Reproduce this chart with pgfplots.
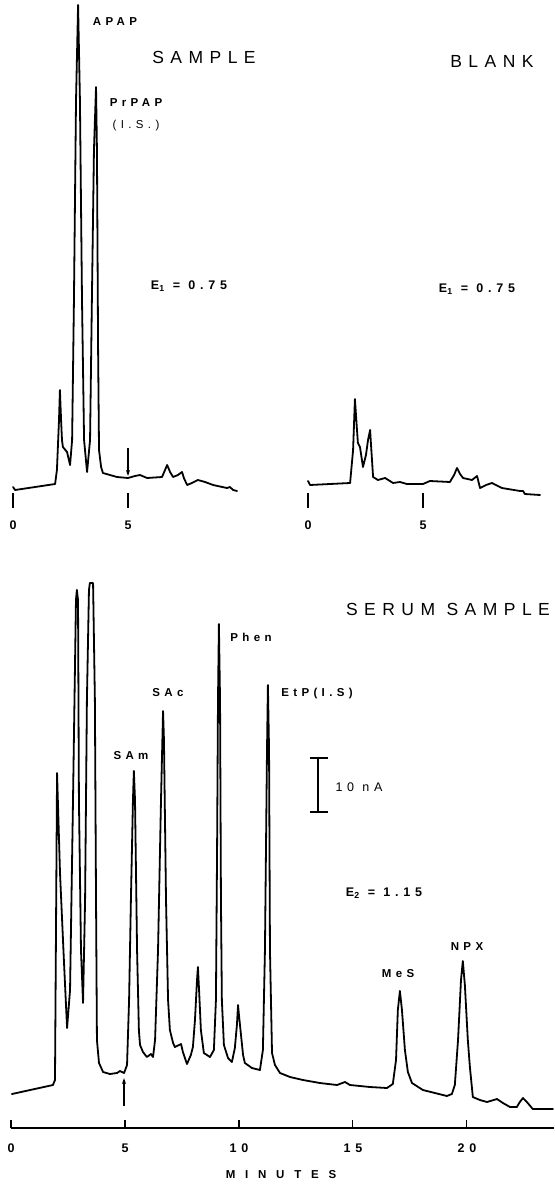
\documentclass[border=0pt]{standalone}
\usepackage{fontspec}
\setmainfont{Liberation Sans}
\newfontfamily\bigf{Liberation Sans}[LetterSpace=37]
\newfontfamily\smf{Liberation Sans}[LetterSpace=38]
\newfontfamily\minf{Liberation Sans}[LetterSpace=85]
\usepackage{pgfplots}
\pgfplotsset{compat=1.18}
\usetikzlibrary{arrows.meta}
\pgfplotsset{chrom/.style={scale only axis, anchor=south west, axis x line*=bottom, hide y axis,
  enlargelimits=false, clip=false, /pgf/number format/assume math mode=true,
  tick align=inside, xtick style={draw=black, line width=1.1pt},
  x axis line style={line width=1.2pt},
  xticklabel style={anchor=center, font=\smf\bfseries\fontsize{12.5}{12.5}\selectfont}},
  curve/.style={black, line width=1.8pt, line join=round, line cap=round}}
\begin{document}
\begin{tikzpicture}
\path[use as bounding box] (0,0) rectangle (554pt,-1185pt);
% ---------- top left: SAMPLE
\begin{axis}[chrom, at={(13pt,-508pt)}, width=230pt, height=508pt,
  xmin=0, xmax=10, ymin=0, ymax=508, xtick={0,5}, major tick length=15pt,
  x axis line style={draw=none}, xticklabel style={yshift=-17pt}]
\addplot[curve] coordinates {
(0,21) (0.09,18) (1.83,24) (1.91,38) (2.0,88) (2.04,118) (2.09,88) (2.13,68) (2.17,61)
(2.35,56) (2.48,43) (2.57,68) (2.65,208) (2.74,408) (2.83,503) (2.91,408) (3.0,208)
(3.09,68) (3.22,36) (3.35,68) (3.43,208) (3.52,358) (3.61,421) (3.65,358) (3.70,158)
(3.74,58) (3.83,41) (3.91,35) (4.52,31) (5.0,30) (5.30,32) (5.52,33) (5.83,30) (6.48,31)
(6.61,38) (6.70,43) (6.83,36) (6.96,31) (7.17,33) (7.35,36) (7.43,30) (7.57,23) (7.78,25)
(8.04,28) (8.35,26) (8.70,23) (9.30,20) (9.43,21) (9.57,18) (9.74,17)};
\end{axis}
% ---------- top right: BLANK
\begin{axis}[chrom, at={(308pt,-508pt)}, width=241.5pt, height=508pt,
  xmin=0, xmax=10.5, ymin=0, ymax=508, xtick={0,5}, major tick length=15pt,
  x axis line style={draw=none}, xticklabel style={yshift=-17pt}]
\addplot[curve] coordinates {
(0,27) (0.09,23) (1.83,25) (1.96,58) (2.04,109) (2.13,78) (2.17,65) (2.26,61) (2.39,41)
(2.52,53) (2.61,68) (2.70,78) (2.74,63) (2.83,31) (3.04,28) (3.35,30) (3.70,25) (4.0,26)
(4.30,24) (5.0,24) (5.30,27) (6.17,26) (6.35,33) (6.48,40) (6.61,34) (6.74,30) (7.13,28)
(7.35,32) (7.48,20) (7.74,23) (8.0,25) (8.43,20) (9.22,17) (9.35,17) (9.43,14) (10.09,13)};
\end{axis}
% ---------- bottom: SERUM SAMPLE
\begin{axis}[chrom, at={(11pt,-1128pt)}, width=543pt, height=1128pt,
  xmin=0, xmax=23.82, ymin=0, ymax=1128, xtick={0,5,10,15,20}, major tick length=8pt,
  xticklabel style={yshift=-20.5pt}]
\addplot[curve] coordinates {
(0.04,34) (1.84,43) (1.93,48) (2.02,355) (2.15,255) (2.32,168) (2.46,100) (2.59,138)
(2.72,328) (2.85,528) (2.89,538) (2.94,528) (2.98,328) (3.07,178) (3.16,125) (3.25,228)
(3.33,428) (3.42,538) (3.46,545) (3.60,545) (3.68,428) (3.73,228) (3.77,88) (3.86,65)
(4.04,56) (4.34,54) (4.65,55) (4.78,57) (4.96,55) (5.09,63) (5.18,128) (5.26,228)
(5.35,328) (5.39,357) (5.44,328) (5.53,178) (5.61,98) (5.66,83) (5.79,76) (5.96,71)
(6.14,74) (6.23,71) (6.32,88) (6.45,178) (6.58,328) (6.67,417) (6.71,388) (6.80,228)
(6.89,128) (6.97,98) (7.11,85) (7.19,81) (7.46,84) (7.54,76) (7.72,64) (7.89,73)
(7.98,81) (8.07,108) (8.16,148) (8.20,161) (8.25,138) (8.33,98) (8.46,75) (8.73,71)
(8.90,78) (8.99,128) (9.04,278) (9.08,428) (9.12,504) (9.17,428) (9.21,228) (9.25,128)
(9.34,83) (9.52,70) (9.69,66) (9.82,80) (9.91,103) (9.96,123) (10.00,113) (10.09,93)
(10.18,73) (10.26,65) (10.57,60) (10.92,58) (11.05,78) (11.14,178) (11.23,378) (11.27,443)
(11.32,378) (11.36,178) (11.45,75) (11.58,63) (11.80,55) (12.24,51) (12.81,48) (13.55,45)
(14.30,43) (14.65,46) (14.87,43) (15.75,41) (16.49,40) (16.75,44) (16.89,68) (16.97,118)
(17.06,137) (17.15,118) (17.28,78) (17.41,56) (17.59,45) (18.07,38) (18.60,35) (19.12,32)
(19.34,34) (19.47,43) (19.61,88) (19.74,148) (19.82,167) (19.91,143) (20.04,88) (20.13,61)
(20.26,31) (20.57,28) (20.88,26) (21.32,29) (21.58,25) (21.89,21) (22.19,21) (22.32,26)
(22.46,30) (22.63,26) (22.89,19) (23.77,19)};
\end{axis}
% ---------- annotations
\def\bigsize{\fontsize{17.5}{17.5}\selectfont}
\def\smsize{\fontsize{11.5}{11.5}\selectfont}
\node[font=\bigf\bigsize] at (204pt,-57pt) {SAMPLE};
\node[font=\bigf\bigsize] at (492pt,-61pt) {BLANK};
\node[font=\bigf\bigsize] at (448pt,-609pt) {SERUM SAMPLE};
\node[font=\smf\bfseries\smsize] at (115pt,-22pt) {APAP};
\node[font=\smf\bfseries\smsize] at (136pt,-103pt) {PrPAP};
\node[font=\smf\smsize] at (136pt,-126pt) {(I.S.)};
\node[font=\smf\bfseries\fontsize{12.5}{12.5}\selectfont] at (189pt,-286pt) {E\textsubscript{1} = 0.75};
\node[font=\smf\bfseries\fontsize{12.5}{12.5}\selectfont] at (477pt,-289pt) {E\textsubscript{1} = 0.75};
\node[font=\smf\bfseries\smsize] at (251pt,-637pt) {Phen};
\node[font=\smf\bfseries\smsize] at (168pt,-693pt) {SAc};
\node[font=\smf\bfseries\smsize] at (131pt,-756pt) {SAm};
\node[font=\smf\bfseries\smsize] at (317pt,-694pt) {EtP(I.S)};
\node[font=\smf\bfseries\smsize] at (398pt,-974pt) {MeS};
\node[font=\smf\bfseries\smsize] at (467pt,-947pt) {NPX};
\node[font=\smf\fontsize{12.5}{12.5}\selectfont] at (359pt,-787pt) {10 nA};
\node[font=\smf\bfseries\fontsize{12.5}{12.5}\selectfont] at (384pt,-893pt) {E\textsubscript{2} = 1.15};
\node[font=\minf\bfseries\fontsize{11.5}{11.5}\selectfont] at (281pt,-1175pt) {MINUTES};
% scale bar
\draw[line width=1.1pt] (318pt,-758pt) -- (318pt,-812pt);
\draw[line width=1.1pt] (310pt,-758pt) -- (328pt,-758pt);
\draw[line width=1.1pt] (310pt,-812pt) -- (328pt,-812pt);
% injection arrows
\draw[line width=1.1pt, -{Stealth[length=6pt,width=4pt]}] (128pt,-448pt) -- (128pt,-476pt);
\draw[line width=1.1pt, -{Stealth[length=6pt,width=4pt]}] (124pt,-1106pt) -- (124pt,-1078pt);
\end{tikzpicture}
\end{document}
